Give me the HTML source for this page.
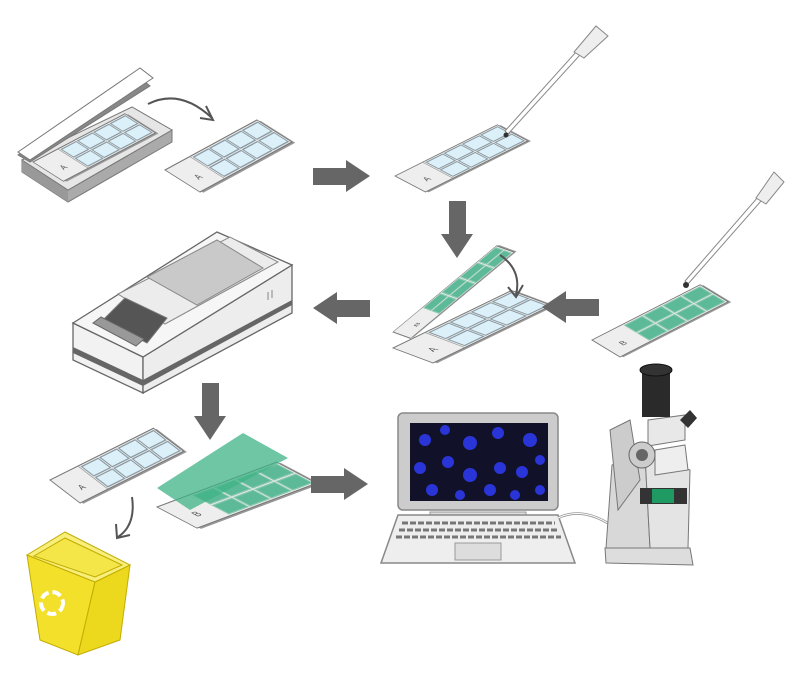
<!DOCTYPE html>
<html><head><meta charset="utf-8"><style>
html,body{margin:0;padding:0;background:#fff;}
svg{display:block;font-family:"Liberation Sans",sans-serif;}
</style></head><body>
<svg width="800" height="673" viewBox="0 0 800 673" xmlns="http://www.w3.org/2000/svg">
<defs>
<g id="slideA">
  <polygon points="0,0 115,0 115,32 0,32" fill="#999" transform="translate(1.5,2)"/>
  <polygon points="0,0 115,0 115,32 0,32" fill="#eeeeee" stroke="#777" stroke-width="1"/>
  <line x1="31" y1="0" x2="31" y2="32" stroke="#999" stroke-width="0.8"/>
  <g fill="#dcf0fa" stroke="#8a9aa2" stroke-width="1.2">
    <rect x="33" y="2" width="18.5" height="13"/><rect x="53.5" y="2" width="18.5" height="13"/><rect x="74" y="2" width="18.5" height="13"/><rect x="94.5" y="2" width="18.5" height="13"/>
    <rect x="33" y="17" width="18.5" height="13"/><rect x="53.5" y="17" width="18.5" height="13"/><rect x="74" y="17" width="18.5" height="13"/><rect x="94.5" y="17" width="18.5" height="13"/>
  </g>
  <text x="15" y="22" font-size="8" fill="#555" text-anchor="middle">A</text>
</g>
<g id="slideB">
  <polygon points="0,0 115,0 115,32 0,32" fill="#999" transform="translate(1.5,2)"/>
  <polygon points="0,0 115,0 115,32 0,32" fill="#eeeeee" stroke="#777" stroke-width="1"/>
  <g fill="#5dba98" stroke="#8cc9b0" stroke-width="1.2">
    <rect x="33" y="2" width="18.5" height="13"/><rect x="53.5" y="2" width="18.5" height="13"/><rect x="74" y="2" width="18.5" height="13"/><rect x="94.5" y="2" width="18.5" height="13"/>
    <rect x="33" y="17" width="18.5" height="13"/><rect x="53.5" y="17" width="18.5" height="13"/><rect x="74" y="17" width="18.5" height="13"/><rect x="94.5" y="17" width="18.5" height="13"/>
  </g>
  <text x="15" y="22" font-size="8" fill="#555" text-anchor="middle">B</text>
</g>
<g id="larrow"><rect x="20" y="8" width="37" height="17" fill="#666"/><polygon points="0,16 24,0 24,32" fill="#666"/></g>
</defs>

<!-- box -->
<polygon points="22,160 22,172 68,202 172,142 172,130 68,190" fill="#aaa" stroke="#777"/>
<polygon points="22,160 68,190 68,202 22,172" fill="#999"/>
<polygon points="22,160 132,107 172,130 68,190" fill="#e6e6e6" stroke="#777"/>
<polygon points="18,155 30,162 150,86 140,78" fill="#888" stroke="#777"/>
<polygon points="18,152 140,68 153,78 30,160" fill="#fff" stroke="#777"/>
<use href="#slideA" transform="matrix(0.8,-0.42,0.95,0.6,33,162)"/>

<!-- curved arrow top -->
<path d="M148,104 Q180,88 212,118" fill="none" stroke="#555" stroke-width="2"/>
<path d="M206,106 L213,120 L200,118" fill="none" stroke="#555" stroke-width="2"/>

<use href="#slideA" transform="matrix(0.8,-0.435,1.09,0.69,165,170)"/>

<use href="#larrow" transform="matrix(-1,0,0,1,370,160)"/>

<!-- top middle slide -->
<use href="#slideA" transform="matrix(0.89,-0.445,0.95,0.5,395,176)"/>
<polygon points="505,131 508,134 580,55 576,52" fill="#fff" stroke="#888"/>
<polygon points="574,52 584,58 608,36 596,26" fill="#eee" stroke="#888"/>
<circle cx="506" cy="135" r="2.5" fill="#333"/>

<use href="#larrow" transform="matrix(0,-1,1,0,441,258)"/>

<!-- middle: slide A + flipped B -->
<use href="#slideA" transform="matrix(1.03,-0.5,1.25,0.47,393,348)"/>
<use href="#slideB" transform="matrix(0.9,-0.75,0.55,0.2,393,332)"/>
<path d="M500,255 Q522,270 516,295" fill="none" stroke="#555" stroke-width="2"/>
<path d="M508,287 L516,297 L523,285" fill="none" stroke="#555" stroke-width="2"/>

<use href="#larrow" transform="translate(313,292)"/>
<use href="#larrow" transform="translate(542,291)"/>

<!-- right green slide -->
<use href="#slideB" transform="matrix(0.94,-0.48,0.875,0.53,592,340)"/>
<polygon points="685,281 688,284 762,200 758,197" fill="#fff" stroke="#888"/>
<polygon points="756,198 766,204 784,182 774,172" fill="#eee" stroke="#888"/>
<circle cx="686" cy="285" r="3" fill="#333"/>

<!-- device -->
<polygon points="73,323 143,357 143,393 73,360" fill="#f2f2f2" stroke="#666" stroke-width="1.3"/>
<polygon points="143,357 292,265 292,313 143,393" fill="#ededed" stroke="#666" stroke-width="1.3"/>
<polygon points="73,347 143,380 292,300 292,305 143,386 73,353" fill="#666"/>
<polygon points="73,323 217,232 292,265 143,357" fill="#f6f6f6" stroke="#666" stroke-width="1.3"/>
<polygon points="118,294 230,237 278,262 165,324" fill="#ececec" stroke="#888"/>
<polygon points="147,277 217,240 263,268 197,305" fill="#c9c9c9" stroke="#888"/>
<polygon points="103,320 125,298 167,318 147,343" fill="#555" stroke="#777"/>
<polygon points="93,323 101,317 144,339 136,346" fill="#999" stroke="#666"/>
<line x1="268" y1="300" x2="268" y2="292" stroke="#888"/><line x1="272" y1="298" x2="272" y2="290" stroke="#888"/>

<use href="#larrow" transform="matrix(0,-1,1,0,194,440)"/>

<!-- bottom left slide A -->
<use href="#slideA" transform="matrix(0.9,-0.45,0.94,0.72,50,480)"/>
<path d="M132,497 Q136,525 118,537" fill="none" stroke="#555" stroke-width="2"/>
<path d="M116,524 L117,538 L130,535" fill="none" stroke="#555" stroke-width="2"/>

<!-- bottom B slide with sheet -->
<use href="#slideB" transform="matrix(1.04,-0.39,1.25,0.66,157,507)"/>
<polygon points="157,488 243,433 288,458 190,510" fill="#3fb386" fill-opacity="0.75"/>

<!-- trash -->
<polygon points="27,555 95,582 78,655 40,640" fill="#f3e02a" stroke="#c2ad00"/>
<polygon points="95,582 130,565 120,640 78,655" fill="#ecd81c" stroke="#c2ad00"/>
<polygon points="27,555 65,532 130,565 95,582" fill="#f8ee7a" stroke="#c2ad00"/>
<polygon points="34,556 65,538 122,565 95,577" fill="#f4e548" stroke="#c2ad00"/>
<circle cx="52" cy="603" r="11" fill="none" stroke="#fff" stroke-width="4" stroke-dasharray="9 4"/>

<use href="#larrow" transform="matrix(-1,0,0,1,368,468)"/>

<!-- laptop -->
<rect x="398" y="413" width="160" height="97" rx="5" fill="#ccc" stroke="#888" stroke-width="1.5"/>
<rect x="410" y="423" width="138" height="78" fill="#12112a"/>
<g fill="#2a35d8">
<circle cx="425" cy="440" r="6"/><circle cx="445" cy="430" r="5"/><circle cx="470" cy="443" r="7"/><circle cx="498" cy="433" r="6"/><circle cx="530" cy="440" r="7"/>
<circle cx="420" cy="468" r="6"/><circle cx="448" cy="462" r="6"/><circle cx="470" cy="475" r="7"/><circle cx="500" cy="468" r="6"/><circle cx="522" cy="472" r="6"/><circle cx="540" cy="460" r="5"/>
<circle cx="432" cy="490" r="6"/><circle cx="460" cy="495" r="5"/><circle cx="490" cy="490" r="6"/><circle cx="515" cy="495" r="5"/><circle cx="540" cy="490" r="5"/>
</g>
<rect x="430" y="512" width="96" height="4" fill="#ddd" stroke="#999"/>
<polygon points="398,515 558,515 575,563 381,563" fill="#eee" stroke="#888" stroke-width="1.5"/>
<g stroke="#777" stroke-width="3" stroke-dasharray="6 2">
<line x1="402" y1="523" x2="555" y2="523"/><line x1="399" y1="530" x2="558" y2="530"/><line x1="396" y1="537" x2="561" y2="537"/>
</g>
<rect x="455" y="543" width="46" height="17" fill="#ddd" stroke="#999"/>
<path d="M558,518 Q585,505 618,530" fill="none" stroke="#999" stroke-width="2.5"/>
<path d="M558,518 Q585,505 618,530" fill="none" stroke="#fff" stroke-width="1"/>

<!-- microscope -->
<polygon points="605,548 690,548 693,565 606,563" fill="#ddd" stroke="#777"/>
<polygon points="612,465 645,455 650,548 606,548" fill="#d8d8d8" stroke="#777"/>
<polygon points="645,455 690,470 688,548 650,548" fill="#e4e4e4" stroke="#777"/>
<polygon points="610,430 630,420 640,480 618,510" fill="#ccc" stroke="#777"/>
<rect x="640" y="488" width="47" height="16" fill="#333"/>
<rect x="652" y="489" width="22" height="14" fill="#1f9a62"/>
<polygon points="648,420 685,415 685,440 648,446" fill="#e8e8e8" stroke="#777"/>
<polygon points="655,450 685,445 688,470 655,475" fill="#eee" stroke="#777"/>
<rect x="642" y="372" width="28" height="45" fill="#2a2a2a"/>
<ellipse cx="656" cy="370" rx="16" ry="6" fill="#333" stroke="#111"/>
<polygon points="680,420 690,410 697,418 688,428" fill="#333"/>
<circle cx="642" cy="455" r="13" fill="#ccc" stroke="#666"/>
<circle cx="642" cy="455" r="6" fill="#666"/>
</svg>
</body></html>
